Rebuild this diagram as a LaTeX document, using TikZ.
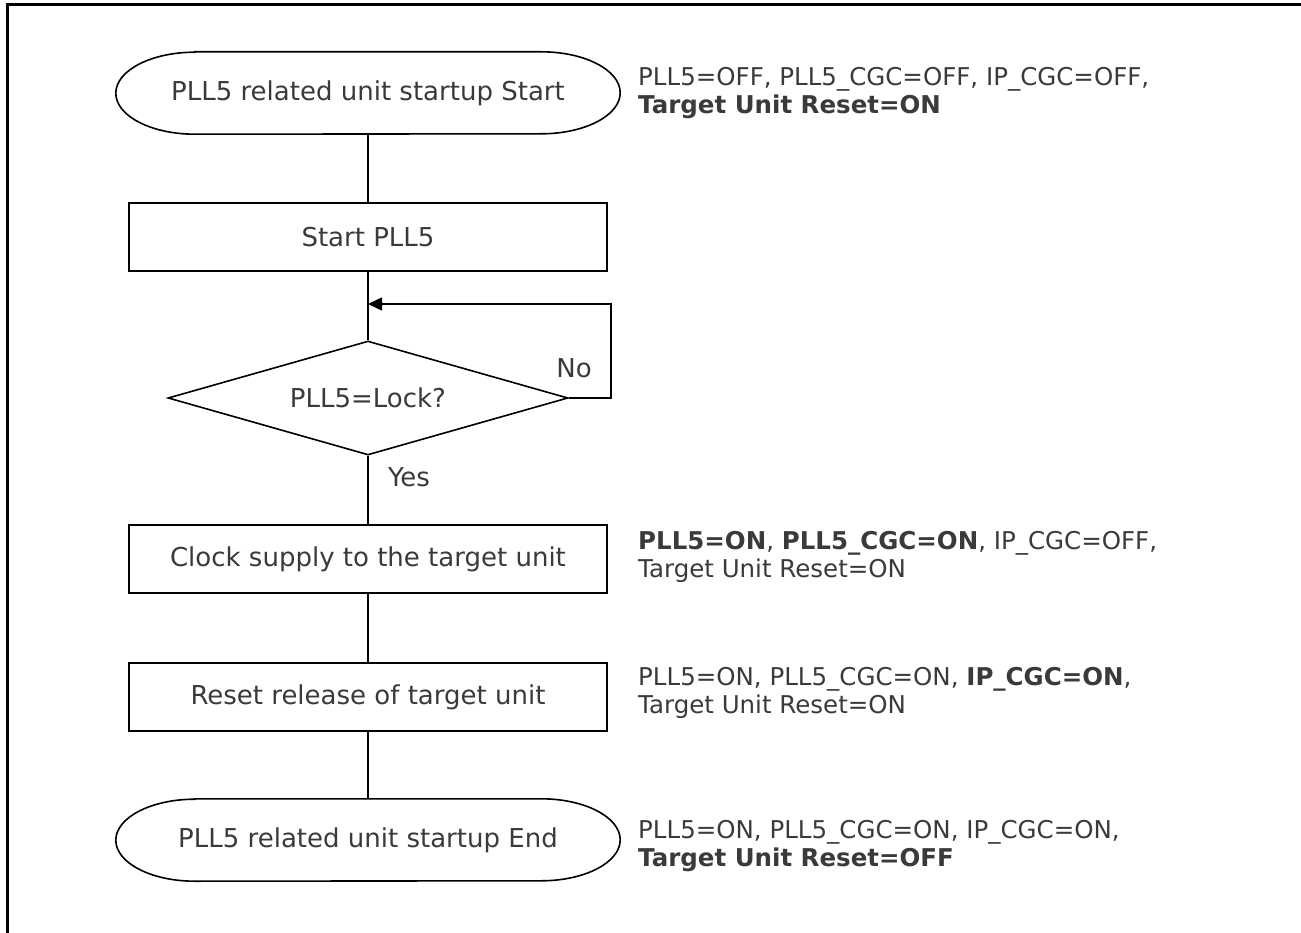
\documentclass[tikz,border=0pt]{standalone}
\usepackage{fontspec}
\setmainfont{DejaVu Sans}
\usetikzlibrary{shapes.geometric,arrows.meta}
\definecolor{txt}{HTML}{3A3A3A}
\begin{document}
\begin{tikzpicture}[x=1pt,y=-1pt,
  every node/.style={text=txt},
  mainfont/.style={font=\fontsize{26}{30}\selectfont},
  annfont/.style={font=\fontsize{24.5}{28}\selectfont},
  line/.style={draw=black,line width=1.6pt},
  termbox/.style={mainfont,minimum width=504pt,minimum height=82pt,inner sep=0pt},
  procbox/.style={mainfont,line,rectangle,minimum width=478pt,minimum height=68pt,inner sep=0pt},
  decbox/.style={mainfont,line,diamond,aspect=3.5,minimum width=400pt,minimum height=114pt,inner sep=0pt},
  ann/.style={annfont,anchor=west,align=left,inner sep=0pt}]
\useasboundingbox (0,0) rectangle (1301,933);
% frame
\draw[line width=3pt] (7,940) -- (7,5) -- (1310,5);
% terminators
\node[termbox] (start) at (368,93) {PLL5 related unit startup Start};
\draw[line] ([xshift=79pt]start.north west) -- ([xshift=-79pt]start.north east)
  arc[start angle=90,end angle=-90,x radius=79pt,y radius=41pt]
  -- ([xshift=79pt]start.south west)
  arc[start angle=270,end angle=90,x radius=79pt,y radius=41pt] -- cycle;
\node[procbox] (b1) at (368,237) {Start PLL5};
\node[decbox] (dia) at (368,398) {PLL5=Lock?};
\node[procbox] (b2) at (368,559) {Clock supply to the target unit};
\node[procbox] (b3) at (368,697) {Reset release of target unit};
\node[termbox] (end) at (368,840) {PLL5 related unit startup End};
\draw[line] ([xshift=79pt]end.north west) -- ([xshift=-79pt]end.north east)
  arc[start angle=90,end angle=-90,x radius=79pt,y radius=41pt]
  -- ([xshift=79pt]end.south west)
  arc[start angle=270,end angle=90,x radius=79pt,y radius=41pt] -- cycle;
% connectors
\coordinate (loopin) at (368,304);
\coordinate (loopR) at (611,304);
\draw[line] (start.south) -- (b1.north);
\draw[line] (b1.south) -- (dia.north);
\draw[line,-{Triangle[length=14pt,width=13pt]}] (dia.east) -| (loopR) -- (loopin);
\draw[line] (dia.south) -- (b2.north);
\draw[line] (b2.south) -- (b3.north);
\draw[line] (b3.south) -- (end.north);
% branch labels
\node[mainfont] (no) at (574,368) {No};
\node[mainfont] (yes) at (409,477) {Yes};
% annotations
\node[ann] (a1) at (638,93) {PLL5=OFF, PLL5\_CGC=OFF, IP\_CGC=OFF,\\\textbf{Target Unit Reset=ON}};
\node[ann] (a2) at (638,557) {\textbf{PLL5=ON}, \textbf{PLL5\_CGC=ON}, IP\_CGC=OFF,\\Target Unit Reset=ON};
\node[ann] (a3) at (638,693) {PLL5=ON, PLL5\_CGC=ON, \textbf{IP\_CGC=ON},\\Target Unit Reset=ON};
\node[ann] (a4) at (638,846) {PLL5=ON, PLL5\_CGC=ON, IP\_CGC=ON,\\\textbf{Target Unit Reset=OFF}};
\end{tikzpicture}
\end{document}
